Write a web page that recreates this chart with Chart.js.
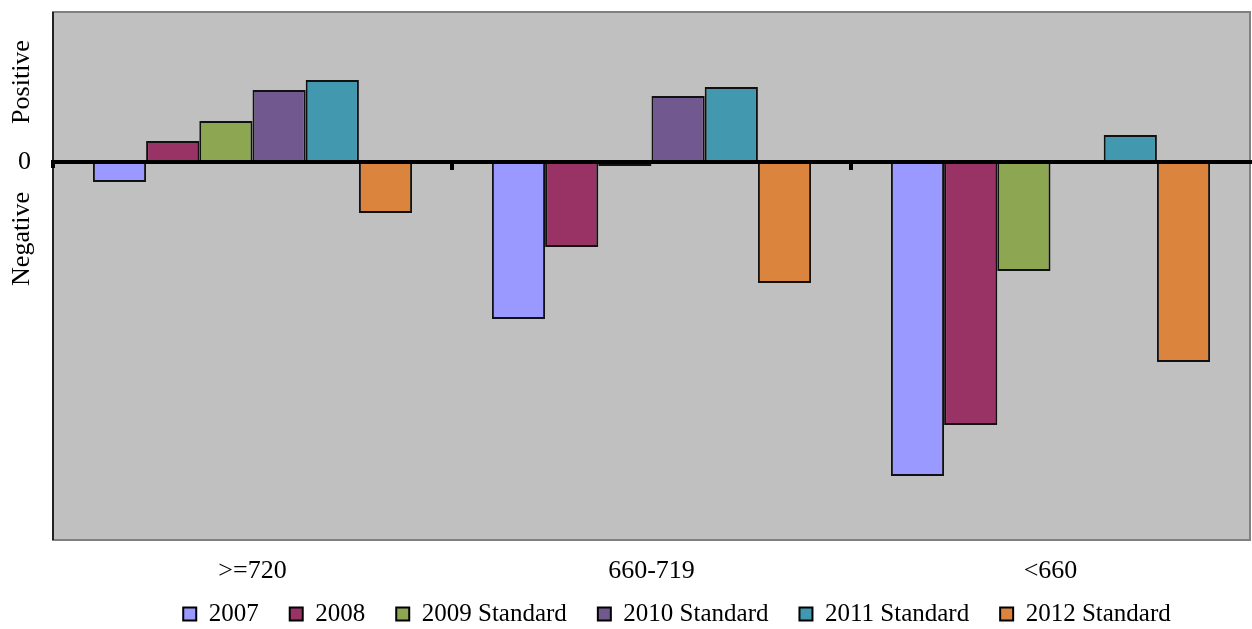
<!DOCTYPE html>
<html lang="en">
<head>
    <meta charset="UTF-8">
    <title>Score bands by vintage</title>
    <script src="https://cdn.jsdelivr.net/npm/chart.js"></script>
    <style>
        html, body { margin: 0; padding: 0; background: #fff; }
        #wrap { width: 1252px; height: 629px; position: relative; }
    </style>
</head>
<body>
    <div id="wrap">
        <canvas id="graphic"></canvas>
    </div>

    <script>
        // score bands on the x axis
        const bands = ['>=720', '660-719', '<660'];

        // one array per vintage, relative to zero
        const v2007 = [-20, -157, -314];
        const v2008 = [21, -85, -263];
        const v2009 = [41, -4, -109];
        const v2010 = [72, 66, null];
        const v2011 = [82, 75, 27];
        const v2012 = [-51, -121, -200];

        const seriesNames = ['2007', '2008', '2009 Standard', '2010 Standard', '2011 Standard', '2012 Standard'];
        const seriesColors = ['#9999FF', '#993366', '#8CA652', '#71588F', '#4198AF', '#DB843D'];

        const yMin = -378;
        const yMax = 150;

        const serif = 'Liberation Serif, Times New Roman, serif';
        const legendPad = 31;
        const legendFont = 25;

        const plotDecor = {
            id: 'plotDecor',
            beforeDraw(chart) {
                const a = chart.chartArea;
                const ctx = chart.ctx;
                ctx.save();
                ctx.fillStyle = '#C0C0C0';
                ctx.fillRect(a.left, a.top, a.right - a.left, a.bottom - a.top);
                ctx.restore();
            },
            afterDatasetsDraw(chart) {
                const a = chart.chartArea;
                const ctx = chart.ctx;
                const y = chart.scales.y;
                const x = chart.scales.x;
                const zero = y.getPixelForValue(0);
                ctx.save();

                // frame
                ctx.strokeStyle = '#808080';
                ctx.lineWidth = 2;
                ctx.strokeRect(a.left, a.top, a.right - a.left, a.bottom - a.top);
                ctx.strokeStyle = '#222';
                ctx.beginPath();
                ctx.moveTo(a.left, a.top);
                ctx.lineTo(a.left, a.bottom);
                ctx.stroke();

                // zero line
                ctx.fillStyle = '#000';
                ctx.fillRect(a.left - 2, zero - 2, a.right - a.left + 4, 4);

                // small ticks between the bands
                for (let i = 1; i < bands.length; i++) {
                    const bx = (x.getPixelForValue(i - 1) + x.getPixelForValue(i)) / 2;
                    ctx.fillRect(bx - 2, zero, 4, 8);
                }
                ctx.fillRect(a.left - 2, zero - 2, 4, 8);

                // side captions
                ctx.font = '26px ' + serif;
                ctx.textAlign = 'center';
                ctx.textBaseline = 'middle';
                [['Positive', zero - 80], ['Negative', zero + 77]].forEach(([t, cy]) => {
                    ctx.save();
                    ctx.translate(22, cy);
                    ctx.rotate(-Math.PI / 2);
                    ctx.fillText(t, 0, 0);
                    ctx.restore();
                });
                ctx.restore();
            },
            afterLayout(chart) {
                // put the legend row centred on y = 614, a bit right of centre
                const lg = chart.legend;
                if (lg) {
                    const dy = 614 - (lg.top + legendPad + legendFont / 2);
                    lg.left += 52;
                    lg.right += 52;
                    lg.top += dy;
                    lg.bottom = chart.height;
                    lg.height = lg.bottom - lg.top;
                }
            }
        };

        const values = [v2007, v2008, v2009, v2010, v2011, v2012];

        new Chart(document.getElementById('graphic'), {
            type: 'bar',
            data: {
                labels: bands,
                datasets: values.map((d, i) => ({
                    label: seriesNames[i],
                    data: d,
                    backgroundColor: seriesColors[i],
                    borderColor: '#111',
                    borderWidth: 2,
                    borderSkipped: false,
                    barPercentage: 1.0,
                    categoryPercentage: 0.8,
                })),
            },
            options: {
                responsive: true,
                maintainAspectRatio: false,
                animation: false,
                layout: { padding: { top: 12, right: 2, left: 0, bottom: 0 } },
                scales: {
                    x: {
                        grid: { display: false, drawTicks: false },
                        border: { display: false },
                        afterFit(s) { s.height = 50; },
                        ticks: {
                            color: '#000',
                            font: { family: serif, size: 26 },
                            padding: 16,
                            maxRotation: 0,
                        },
                    },
                    y: {
                        min: yMin,
                        max: yMax,
                        grid: { display: false, drawTicks: false },
                        border: { display: false },
                        afterBuildTicks(s) { s.ticks = [{ value: 0 }]; },
                        afterFit(s) {
                            s.width = 53;
                            s.paddingTop = 0;
                            s.paddingBottom = 0;
                        },
                        ticks: {
                            color: '#000',
                            font: { family: serif, size: 26 },
                            padding: 22,
                        },
                    },
                },
                plugins: {
                    legend: {
                        position: 'bottom',
                        maxHeight: 39,
                        labels: {
                            color: '#000',
                            font: { family: serif, size: legendFont },
                            boxWidth: 13,
                            boxHeight: 13,
                            padding: legendPad,
                            generateLabels(chart) {
                                return chart.data.datasets.map((ds, i) => ({
                                    text: ds.label,
                                    fillStyle: ds.backgroundColor,
                                    strokeStyle: '#000',
                                    lineWidth: 2,
                                    hidden: false,
                                    datasetIndex: i,
                                    fontColor: '#000',
                                }));
                            },
                        },
                    },
                    tooltip: { enabled: false },
                },
            },
            plugins: [plotDecor],
        });
    </script>
</body>
</html>
